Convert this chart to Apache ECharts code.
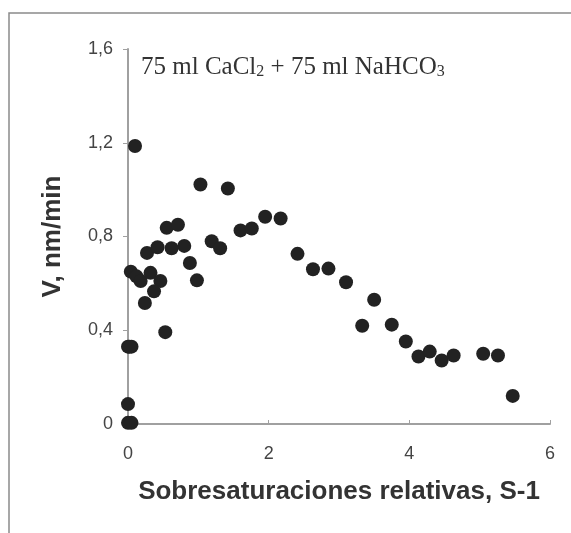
<!DOCTYPE html>
<html>
<head>
<meta charset="utf-8">
<script src="https://cdn.jsdelivr.net/npm/echarts@6/dist/echarts.min.js"></script>
<style>
    html, body { margin: 0; padding: 0; background: #fff; }
    #chart { width: 571px; height: 533px; }
</style>
</head>
<body>
<div id="chart"></div>
<script>
    // relative supersaturation (S-1) and growth rate V (nm/min)
    var sValues = [
        0.0, 0.05, 0.0, 0.0, 0.05, 0.02, 0.1,
        0.04, 0.12, 0.18, 0.32, 0.46, 0.37, 0.24, 0.53,
        0.27, 0.42, 0.55, 0.71, 0.62, 0.80, 0.88, 0.98,
        1.03, 1.19, 1.31, 1.42, 1.60, 1.76, 1.95, 2.17,
        2.41, 2.63, 2.85, 3.10, 3.33, 3.50, 3.75, 3.95,
        4.13, 4.29, 4.46, 4.63, 5.05, 5.26, 5.47
    ];
    var vValues = [
        0.005, 0.005, 0.085, 0.33, 0.33, 0.33, 1.186,
        0.65, 0.63, 0.61, 0.645, 0.61, 0.566, 0.516, 0.392,
        0.73, 0.754, 0.837, 0.85, 0.75, 0.76, 0.687, 0.613,
        1.022, 0.78, 0.75, 1.005, 0.826, 0.834, 0.884, 0.877,
        0.726, 0.66, 0.663, 0.605, 0.419, 0.53, 0.424, 0.352,
        0.288, 0.309, 0.271, 0.292, 0.30, 0.292, 0.12
    ];
    var xTicks = { min: 0, max: 6, step: 2 };
    var yTicks = { min: 0, max: 1.6, step: 0.4 };

    var points = [];
    for (var i = 0; i < sValues.length; i++) {
        points.push([sValues[i], vValues[i]]);
    }

    var chart = echarts.init(document.getElementById('chart'));

    var option = {
        animation: false,
        backgroundColor: '#fff',
        title: {
            text: '75 ml CaCl{sub|2} + 75 ml NaHCO{sub|3}',
            left: 136,
            top: 50,
            textStyle: {
                fontFamily: 'Liberation Serif',
                fontSize: 25,
                fontWeight: 'normal',
                color: '#333',
                rich: {
                    sub: {
                        fontFamily: 'Liberation Serif',
                        fontSize: 16,
                        color: '#333',
                        verticalAlign: 'bottom',
                        padding: [9, 0, 0, 0]
                    }
                }
            }
        },
        graphic: [{
            type: 'rect',
            shape: { x: 9, y: 13, width: 600, height: 560 },
            style: { fill: 'none', stroke: '#8a8a8a', lineWidth: 1.5 },
            silent: true
        }],
        grid: {
            left: 128,
            right: 21,
            top: 49,
            bottom: 109
        },
        xAxis: {
            type: 'value',
            min: xTicks.min,
            max: xTicks.max,
            interval: xTicks.step,
            name: 'Sobresaturaciones relativas, S-1',
            nameLocation: 'middle',
            nameGap: 55,
            nameMoveOverlap: false,
            nameTextStyle: {
                fontFamily: 'Liberation Sans',
                fontSize: 26,
                fontWeight: 'bold',
                color: '#333'
            },
            axisLine: { lineStyle: { color: '#a0a0a0', width: 2 } },
            axisTick: { show: true, length: 4, inside: true, lineStyle: { color: '#a0a0a0' } },
            axisLabel: {
                margin: 21,
                fontFamily: 'Liberation Sans',
                fontSize: 18,
                color: '#444'
            },
            splitLine: { show: false }
        },
        yAxis: {
            type: 'value',
            min: yTicks.min,
            max: yTicks.max,
            interval: yTicks.step,
            name: 'V, nm/min',
            nameLocation: 'middle',
            nameGap: 62,
            nameMoveOverlap: false,
            nameTextStyle: {
                fontFamily: 'Liberation Sans',
                fontSize: 26,
                fontWeight: 'bold',
                color: '#333'
            },
            axisLine: { show: true, lineStyle: { color: '#a0a0a0', width: 2 } },
            axisTick: { show: true, length: 5, lineStyle: { color: '#a0a0a0' } },
            axisLabel: {
                margin: 15,
                fontFamily: 'Liberation Sans',
                fontSize: 18,
                color: '#444',
                formatter: function (v) {
                    return String(Math.round(v * 10) / 10).replace('.', ',');
                }
            },
            splitLine: { show: false }
        },
        series: [{
            type: 'scatter',
            symbol: 'circle',
            symbolSize: 14,
            itemStyle: { color: '#222', opacity: 1 },
            data: points
        }]
    };

    chart.setOption(option);
</script>
</body>
</html>
